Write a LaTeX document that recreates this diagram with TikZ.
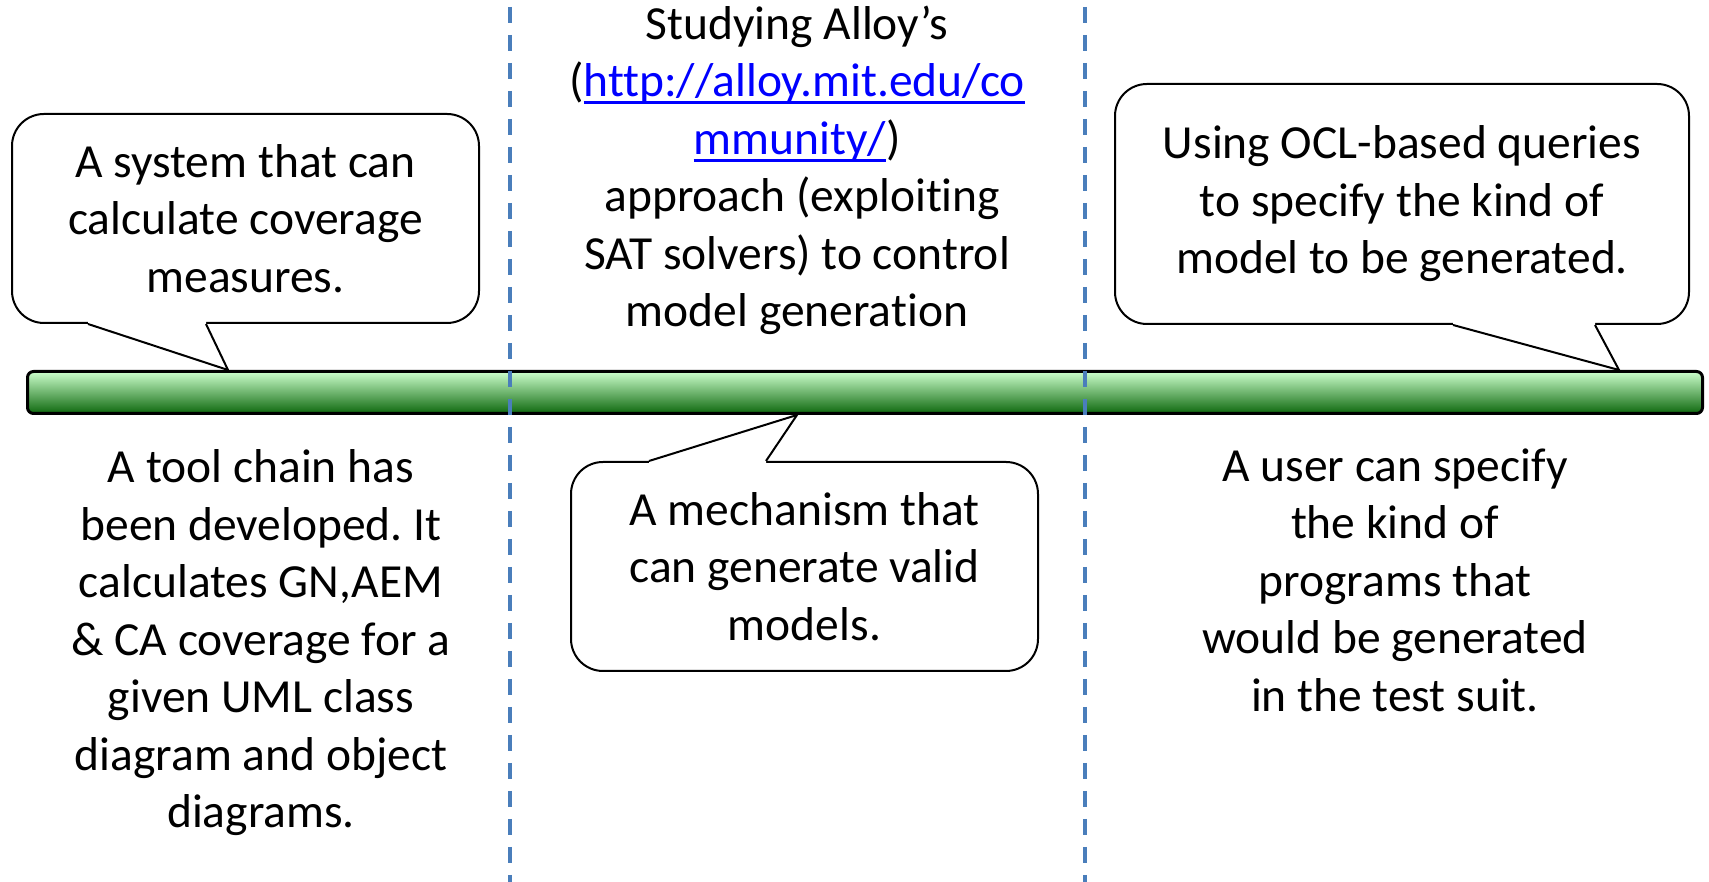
\documentclass[tikz,border=0pt]{standalone}
\usepackage{fontspec}
\setmainfont{Carlito}[Ligatures=NoCommon]
\usepackage{xcolor}
\usepackage{tikz}
\usetikzlibrary{calc, positioning}
\frenchspacing

\definecolor{linkblue}{RGB}{0,0,255}
\definecolor{divblue}{RGB}{74,126,187}
\definecolor{barlight}{RGB}{204,255,204}
\definecolor{bardark}{RGB}{14,104,14}
\newcommand{\urlpart}[1]{\textcolor{linkblue}{\setbox0\hbox{#1}\rlap{\rule[-7.5pt]{\wd0}{3pt}}\box0}}

\tikzset{
  note/.style={draw, line width=2pt, fill=white, rounded corners=32pt, align=center, inner sep=0pt},
  plain/.style={align=center},
  tail/.style={line width=2pt, line join=miter},
  divider/.style={divblue, line width=3.5pt, dash pattern=on 16pt off 12pt, dash phase=21pt}
}

\begin{document}
\begin{tikzpicture}[x=1pt, y=1pt, font=\fontsize{47.5}{57.5}\selectfont]
\useasboundingbox (0,0) rectangle (1709,882);

\node[draw, line width=3pt, rounded corners=6pt, top color=barlight, bottom color=bardark, minimum width=1675pt, minimum height=42pt, inner sep=0pt] (bar) at (865,489.5) {};

\coordinate (divAtop) at (510,882);
\coordinate (divAbot) at (510,0);
\coordinate (divBtop) at (1085,882);
\coordinate (divBbot) at (1085,0);
\draw[divider] (divAtop) -- (divAbot);
\draw[divider] (divBtop) -- (divBbot);

\node[note, minimum width=467pt, minimum height=209pt] (sysnote) at (245.5,663.5) {A system that can\\calculate coverage\\measures.};
\node[note, minimum width=574pt, minimum height=240pt] (oclnote) at (1402,678) {Using OCL-based queries\\to specify the kind of\\model to be generated.};
\node[note, minimum width=467pt, minimum height=209pt] (mechnote) at (804.5,315.5) {A mechanism that\\can generate valid\\models.};

\coordinate (sysb1) at ($(sysnote.south west)+(77,0)$);
\coordinate (sysb2) at ($(sysnote.south west)+(195,0)$);
\coordinate (systip) at (228,512);
\fill[white] (sysb1) -- (systip) -- (sysb2) -- ++(0,3) -- ($(sysb1)+(0,3)$) -- cycle;
\draw[tail] (sysb1) -- (systip) -- (sysb2);

\coordinate (oclb1) at ($(oclnote.south west)+(339,0)$);
\coordinate (oclb2) at ($(oclnote.south west)+(481,0)$);
\coordinate (ocltip) at (1619,512);
\fill[white] (oclb1) -- (ocltip) -- (oclb2) -- ++(0,3) -- ($(oclb1)+(0,3)$) -- cycle;
\draw[tail] (oclb1) -- (ocltip) -- (oclb2);

\coordinate (mechb1) at ($(mechnote.north west)+(79,0)$);
\coordinate (mechb2) at ($(mechnote.north west)+(196,0)$);
\coordinate (mechtip) at (797,467);
\fill[white] (mechb1) -- (mechtip) -- (mechb2) -- ++(0,-3) -- ($(mechb1)+(0,-3)$) -- cycle;
\draw[tail] (mechb1) -- (mechtip) -- (mechb2);

\node[plain] (alloytext) at (797,711.5) {Studying Alloy’s\\(\urlpart{http://alloy.mit.edu/co}\\\urlpart{mmunity/})\\\hspace*{0.226em}approach (exploiting\\SAT solvers) to control\\model generation};
\node[plain] (chaintext) at (261,239) {A tool chain has\\been developed. It\\calculates GN,AEM\\\& CA coverage for a\\given UML class\\diagram and object\\diagrams.};
\node[plain] (usertext) at (1395,302) {A user can specify\\the kind of\\programs that\\would be generated\\in the test suit.};
\end{tikzpicture}
\end{document}
